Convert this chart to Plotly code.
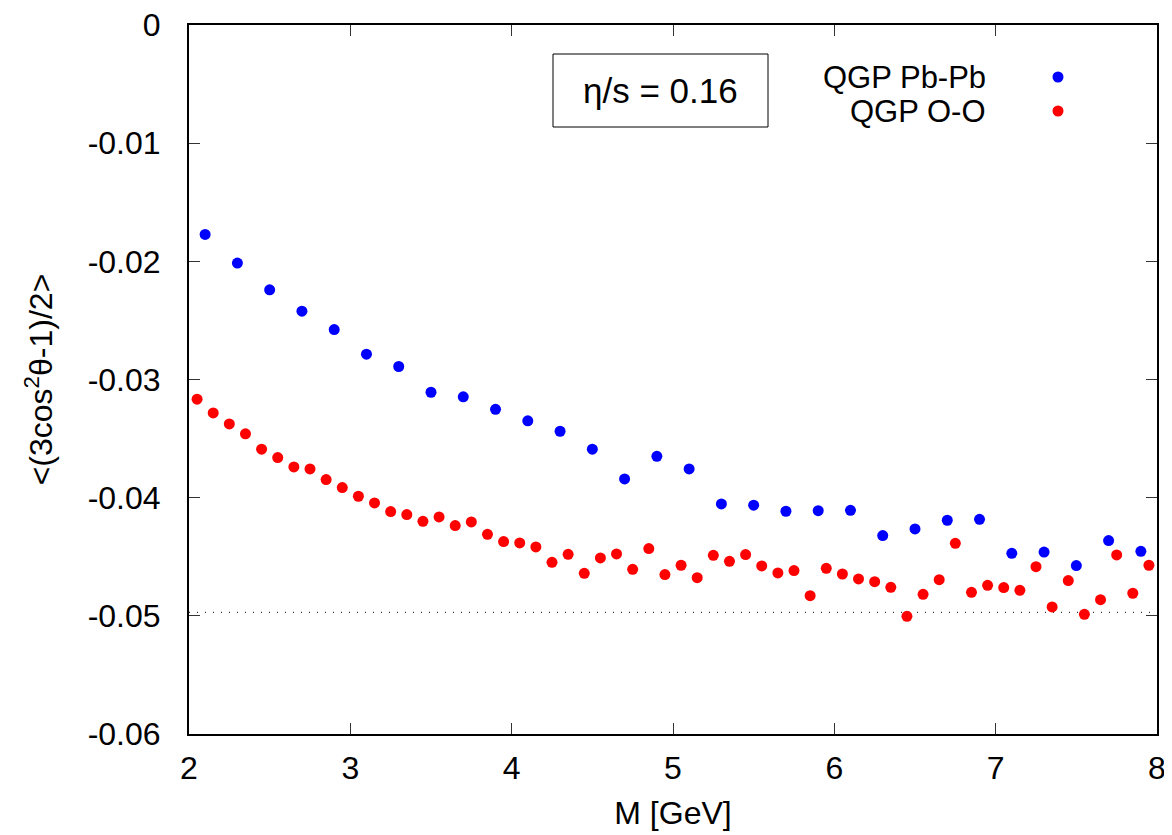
import plotly.graph_objects as go

# ---- data ----
m_pbpb = [2.1, 2.3, 2.5, 2.7, 2.9, 3.1, 3.3, 3.5, 3.7, 3.9, 4.1, 4.3, 4.5, 4.7, 4.9,
          5.1, 5.3, 5.5, 5.7, 5.9, 6.1, 6.3, 6.5, 6.7, 6.9, 7.1, 7.3, 7.5, 7.7, 7.9]
v_pbpb = [-0.01772, -0.02015, -0.02241, -0.02422, -0.02577, -0.02786, -0.02890, -0.03108,
          -0.03147, -0.03252, -0.03350, -0.03438, -0.03590, -0.03841, -0.03650, -0.03757,
          -0.04053, -0.04064, -0.04115, -0.04110, -0.04107, -0.04321, -0.04265, -0.04191,
          -0.04183, -0.04471, -0.04460, -0.04575, -0.04363, -0.04454]

m_oo = [2.05, 2.15, 2.25, 2.35, 2.45, 2.55, 2.65, 2.75, 2.85, 2.95,
        3.05, 3.15, 3.25, 3.35, 3.45, 3.55, 3.65, 3.75, 3.85, 3.95,
        4.05, 4.15, 4.25, 4.35, 4.45, 4.55, 4.65, 4.75, 4.85, 4.95,
        5.05, 5.15, 5.25, 5.35, 5.45, 5.55, 5.65, 5.75, 5.85, 5.95,
        6.05, 6.15, 6.25, 6.35, 6.45, 6.55, 6.65, 6.75, 6.85, 6.95,
        7.05, 7.15, 7.25, 7.35, 7.45, 7.55, 7.65, 7.75, 7.85, 7.95]
v_oo = [-0.03167, -0.03283, -0.03376, -0.03460, -0.03590, -0.03661, -0.03740, -0.03757, -0.03847, -0.03915,
        -0.03988, -0.04045, -0.04118, -0.04143, -0.04200, -0.04163, -0.04236, -0.04205, -0.04310, -0.04372,
        -0.04383, -0.04417, -0.04547, -0.04479, -0.04640, -0.04510, -0.04476, -0.04606, -0.04431, -0.04651,
        -0.04572, -0.04677, -0.04488, -0.04539, -0.04482, -0.04578, -0.04637, -0.04617, -0.04829, -0.04598,
        -0.04646, -0.04688, -0.04711, -0.04759, -0.05004, -0.04818, -0.04694, -0.04386, -0.04801, -0.04742,
        -0.04761, -0.04784, -0.04584, -0.04925, -0.04702, -0.04987, -0.04863, -0.04485, -0.04809, -0.04572]

ref_level = -0.0497

x_ticks = [2, 3, 4, 5, 6, 7, 8]
x_ticklabels = ["2", "3", "4", "5", "6", "7", "8"]
y_ticks = [0, -0.01, -0.02, -0.03, -0.04, -0.05, -0.06]
y_ticklabels = ["0", "-0.01", "-0.02", "-0.03", "-0.04", "-0.05", "-0.06"]

series_names = ["QGP Pb-Pb", "QGP O-O"]
series_colors = ["#0000ff", "#ff0000"]

FONT = "Liberation Sans, Arial, sans-serif"

# page body has an 8px default margin; plot area spans x 189..1157, y 25..734 in the window
OFF = 8
WIN_W, WIN_H = 1172, 835
PX0, PX1, PY0, PY1 = 189, 1157, 25, 734
PW, PH = PX1 - PX0, PY1 - PY0


def px(xp):
    return (xp - PX0) / PW


def py(yp):
    return 1 - (yp - PY0) / PH


fig = go.Figure()
fig.add_trace(go.Scatter(x=m_pbpb, y=v_pbpb, mode="markers", name=series_names[0],
                         marker=dict(color=series_colors[0], size=11, line=dict(width=0)),
                         showlegend=False))
fig.add_trace(go.Scatter(x=m_oo, y=v_oo, mode="markers", name=series_names[1],
                         marker=dict(color=series_colors[1], size=11, line=dict(width=0)),
                         showlegend=False))

# dotted reference line
fig.add_shape(type="line", xref="paper", x0=0, x1=1, yref="y", y0=ref_level, y1=ref_level,
              line=dict(color="#333333", width=1.2, dash="1px,7px"), layer="below")

# eta/s box
fig.add_shape(type="rect", xref="paper", yref="paper",
              x0=px(553), x1=px(768), y0=py(127), y1=py(54),
              line=dict(color="black", width=1), fillcolor="white")
fig.add_annotation(xref="paper", yref="paper", x=px(660.5), y=py(90.5),
                   text="η/s = 0.16", showarrow=False, xanchor="center", yanchor="middle",
                   font=dict(family=FONT, size=35, color="black"))

# legend (gnuplot style: right-aligned text, symbol on the right)
leg_y = [py(77), py(111)]
for name, col, yy in zip(series_names, series_colors, leg_y):
    fig.add_annotation(xref="paper", yref="paper", x=px(988), y=yy,
                       text=name, showarrow=False, xanchor="right", yanchor="middle",
                       font=dict(family=FONT, size=31, color="black"))
    fig.add_shape(type="circle", xref="paper", yref="paper", xsizemode="pixel", ysizemode="pixel",
                  xanchor=px(1058), yanchor=yy, x0=-5.5, x1=5.5, y0=-5.5, y1=5.5,
                  fillcolor=col, line=dict(width=0))

fig.update_layout(
    width=WIN_W - OFF, height=WIN_H - OFF,
    margin=dict(l=PX0 - OFF, r=WIN_W - PX1, t=PY0 - OFF, b=WIN_H - PY1, autoexpand=False),
    paper_bgcolor="white", plot_bgcolor="white",
    font=dict(family=FONT, size=32, color="black"),
    showlegend=False,
)
fig.update_xaxes(range=[2, 8], tickvals=x_ticks, ticktext=x_ticklabels, automargin=False,
                 showgrid=False, zeroline=False, showline=True, linecolor="black", linewidth=2,
                 mirror="ticks", ticks="inside", ticklen=11, tickwidth=1, tickcolor="#333333",
                 tickfont=dict(size=32), ticklabelstandoff=5, ticklabeloverflow="allow",
                 title=dict(text="M [GeV]", font=dict(size=32), standoff=16))
fig.update_yaxes(range=[-0.06, 0], tickvals=y_ticks, ticktext=y_ticklabels, automargin=False,
                 showgrid=False, zeroline=False, showline=True, linecolor="black", linewidth=2,
                 mirror="ticks", ticks="inside", ticklen=11, tickwidth=1, tickcolor="#333333",
                 tickfont=dict(size=32), ticklabelstandoff=20, ticklabeloverflow="allow",
                 title=dict(text="&lt;(3cos<sup>2</sup>θ-1)/2&gt;", font=dict(size=32), standoff=25))

fig.write_html("out.html")
